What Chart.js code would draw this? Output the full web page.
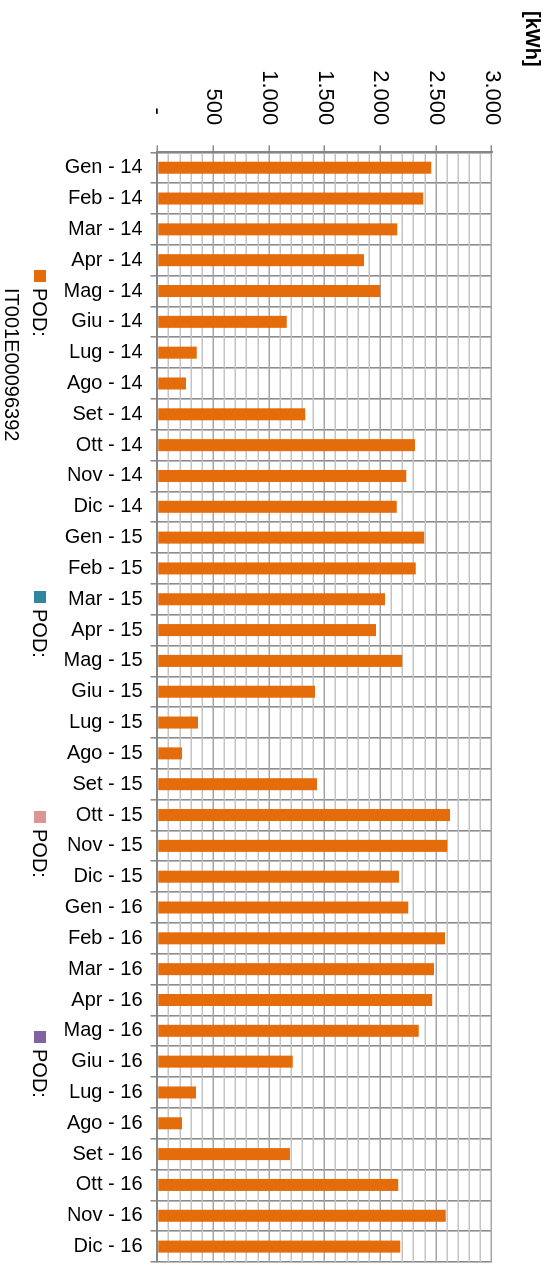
<!DOCTYPE html>
<html lang="it">
<head>
<meta charset="utf-8">
<title>Consumi mensili POD</title>
<script src="https://cdn.jsdelivr.net/npm/chart.js@4"></script>
<style>
  html, body { margin: 0; padding: 0; background: #fff; overflow: hidden; }
  /* il grafico a colonne viene disegnato orizzontale e poi ruotato di 90° */
  #wrap {
    position: absolute; left: 0; top: 0;
    width: 1271px; height: 551px;
    transform-origin: 0 0;
    transform: translateX(551px) rotate(90deg);
  }
  #chart { display: block; width: 1271px; height: 551px; }
</style>
</head>
<body>
<div id="wrap"><canvas id="chart" width="1271" height="551"></canvas></div>
<script>
const mesi = [
  'Gen - 14', 'Feb - 14', 'Mar - 14', 'Apr - 14', 'Mag - 14', 'Giu - 14',
  'Lug - 14', 'Ago - 14', 'Set - 14', 'Ott - 14', 'Nov - 14', 'Dic - 14',
  'Gen - 15', 'Feb - 15', 'Mar - 15', 'Apr - 15', 'Mag - 15', 'Giu - 15',
  'Lug - 15', 'Ago - 15', 'Set - 15', 'Ott - 15', 'Nov - 15', 'Dic - 15',
  'Gen - 16', 'Feb - 16', 'Mar - 16', 'Apr - 16', 'Mag - 16', 'Giu - 16',
  'Lug - 16', 'Ago - 16', 'Set - 16', 'Ott - 16', 'Nov - 16', 'Dic - 16'
];

// kWh per mese, POD IT001E00096392
const consumi = [
  2458, 2386, 2153, 1854, 2000, 1160, 352, 256, 1327, 2312, 2234, 2147,
  2395, 2318, 2042, 1961, 2198, 1414, 364, 220, 1432, 2626, 2602, 2168,
  2252, 2581, 2482, 2467, 2345, 1213, 346, 220, 1190, 2162, 2587, 2180
];

const serie = ['POD: IT001E00096392', 'POD:', 'POD:', 'POD:'];
const coloriSerie = ['#E46C0A', '#31859C', '#D99694', '#8064A2'];

const scalaMax = 3000;
const passoGriglia = 100;
const passoEtichette = 500;

function formatKwh(v) {
  if (v === 0) return '- \u2009';
  return String(v).replace(/\B(?=(\d{3})+(?!\d))/g, '.');
}

// legenda in basso + unità di misura in alto a sinistra
const legendaPod = {
  id: 'legendaPod',
  afterDraw(chart) {
    const ctx = chart.ctx;
    ctx.save();
    ctx.fillStyle = '#000';
    ctx.textBaseline = 'middle';
    ctx.font = 'bold 20px "Liberation Sans", Arial, sans-serif';
    ctx.fillText('[kWh]', 11, 19);

    const posX = [270, 591, 811, 1031];
    ctx.font = '20px "Liberation Sans", Arial, sans-serif';
    chart.data.datasets.forEach((ds, i) => {
      const x = posX[i];
      ctx.fillStyle = ds.backgroundColor;
      ctx.fillRect(x, 505, 12, 12);
      ctx.fillStyle = '#000';
      ds.label.split(' ').forEach((riga, r) => {
        ctx.fillText(riga, x + 18, 512 + r * 28);
      });
    });
    ctx.restore();
  }
};

Chart.defaults.font.family = '"Liberation Sans", Arial, sans-serif';
Chart.defaults.color = '#000';

new Chart(document.getElementById('chart'), {
  type: 'bar',
  data: {
    labels: mesi,
    datasets: serie.map((nome, i) => ({
      label: nome,
      data: i === 0 ? consumi : [],
      backgroundColor: coloriSerie[i],
      grouped: false,
      barPercentage: 0.39,
      categoryPercentage: 1
    }))
  },
  options: {
    responsive: false,
    devicePixelRatio: 1,
    animation: false,
    layout: { padding: { top: 59.3, right: 9, left: 0, bottom: 0 } },
    plugins: {
      legend: { display: false },
      tooltip: { enabled: false }
    },
    scales: {
      x: {
        grid: { offset: true, color: '#8c8c8c', lineWidth: 1.6, tickLength: 7, tickColor: '#8c8c8c' },
        border: { color: '#868686', width: 2 },
        ticks: { autoSkip: false, minRotation: 90, maxRotation: 90, padding: 8, font: { size: 20 } },
        afterFit(s) {
          s.height = 157.5;
          s.paddingLeft = 0;
          s.paddingRight = 0;
        }
      },
      y: {
        min: 0,
        max: scalaMax,
        grid: {
          lineWidth: 1.5,
          tickLength: 7,
          color: c => (c.tick && c.tick.value % passoEtichette === 0) ? '#a6a6a6' : '#c4c4c4',
          tickColor: c => (c.tick && c.tick.value % passoEtichette === 0) ? '#8c8c8c' : 'rgba(0,0,0,0)'
        },
        border: { color: '#868686', width: 2 },
        ticks: {
          stepSize: passoGriglia,
          autoSkip: false,
          padding: 20,
          font: { size: 22 },
          callback: v => v % passoEtichette === 0 ? formatKwh(v) : ''
        },
        afterFit(s) { s.width = 152.3; }
      }
    }
  },
  plugins: [legendaPod]
});
</script>
</body>
</html>
